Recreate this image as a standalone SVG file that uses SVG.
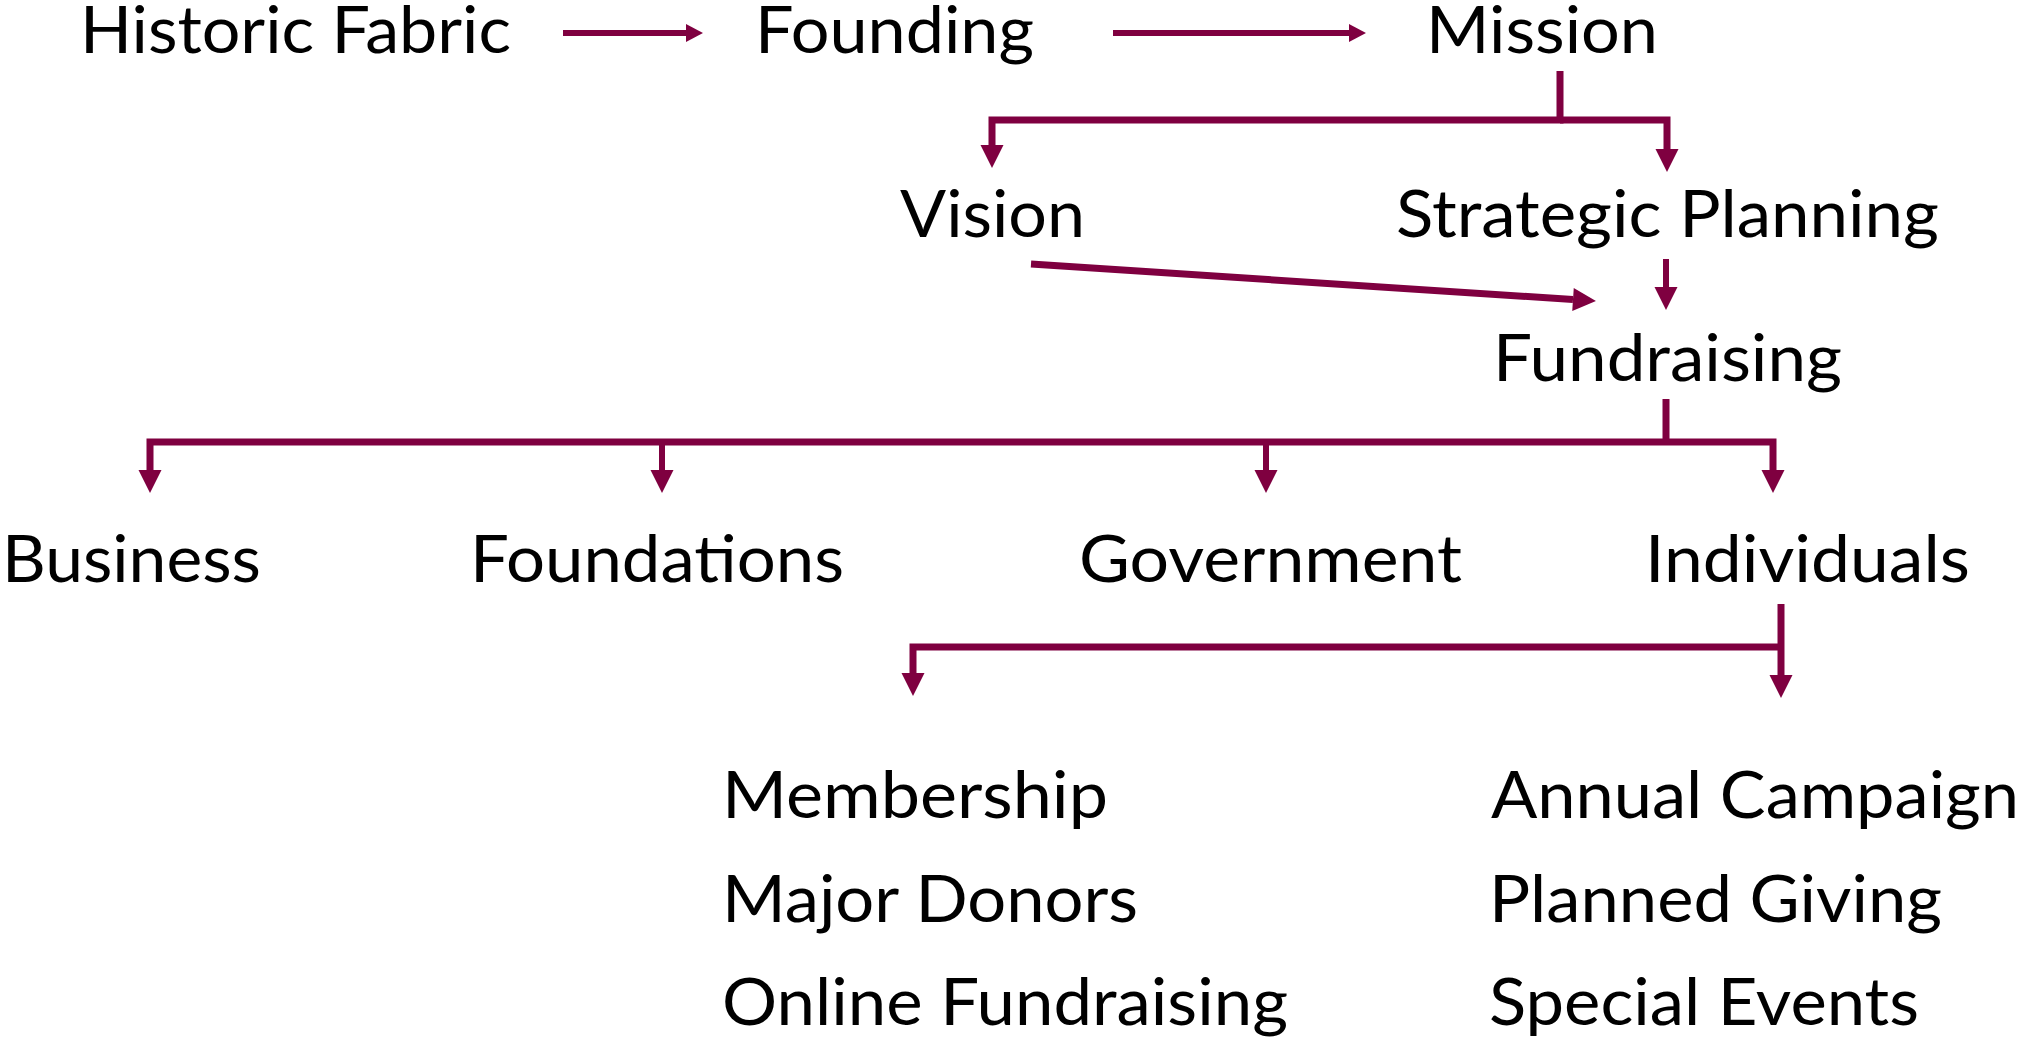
<svg xmlns="http://www.w3.org/2000/svg" width="2021" height="1040" viewBox="0 0 2021 1040">
<style>
  .t { font-family: Lato, "Open Sans", sans-serif; font-size: 66px; fill: #000; }
  .c { fill: none; stroke: #7F0040; stroke-linejoin: miter; stroke-linecap: butt; }
  .w6 { stroke-width: 6; }
  .w7 { stroke-width: 7; }
</style>
<defs>
  <marker id="ah" markerUnits="userSpaceOnUse" markerWidth="24" markerHeight="24" viewBox="0 -12 23 24" refX="0" refY="0" orient="auto">
    <path d="M0,-11.5 L23,0 L0,11.5 Z" fill="#7F0040"/>
  </marker>
  <marker id="ahs" markerUnits="userSpaceOnUse" markerWidth="18" markerHeight="20" viewBox="0 -10 17 20" refX="0" refY="0" orient="auto">
    <path d="M0,-9 L17,0 L0,9 Z" fill="#7F0040"/>
  </marker>
</defs>
<rect width="2021" height="1040" fill="#fff"/>
<g id="connectors">
  <path class="c w6" d="M563,33 H686" marker-end="url(#ahs)"/>
  <path class="c w6" d="M1113,33 H1349" marker-end="url(#ahs)"/>
  <path class="c w7" d="M1560,71 V120 H992 V145" marker-end="url(#ah)"/>
  <path class="c w7" d="M1560,120 H1667 V149" marker-end="url(#ah)"/>
  <path class="c w7" d="M1031,264 L1573,299.5" marker-end="url(#ah)"/>
  <path class="c w6" d="M1666,259 V287" marker-end="url(#ah)"/>
  <path class="c w7" d="M1666,399 V442"/>
  <path class="c w7" d="M150,470 V442 H1773 V470" marker-end="url(#ah)"/>
  <path class="c w6" d="M150,442 V470" marker-end="url(#ah)"/>
  <path class="c w6" d="M662,442 V470" marker-end="url(#ah)"/>
  <path class="c w6" d="M1266,442 V470" marker-end="url(#ah)"/>
  <path class="c w7" d="M1781,604 V675" marker-end="url(#ah)"/>
  <path class="c w7" d="M1781,647 H913 V673" marker-end="url(#ah)"/>
</g>
<g id="historic-fabric"><text class="t" x="80" y="53" textLength="431" lengthAdjust="spacingAndGlyphs">Historic Fabric</text></g>
<g id="founding"><text class="t" x="755" y="53" textLength="279" lengthAdjust="spacingAndGlyphs">Founding</text></g>
<g id="mission"><text class="t" x="1426" y="53" textLength="232" lengthAdjust="spacingAndGlyphs">Mission</text></g>
<g id="vision"><text class="t" x="900" y="237" textLength="185" lengthAdjust="spacingAndGlyphs">Vision</text></g>
<g id="strategic-planning"><text class="t" x="1396" y="237" textLength="543" lengthAdjust="spacingAndGlyphs">Strategic Planning</text></g>
<g id="fundraising"><text class="t" x="1493" y="381" textLength="349" lengthAdjust="spacingAndGlyphs">Fundraising</text></g>
<g id="business"><text class="t" x="2" y="582" textLength="259" lengthAdjust="spacingAndGlyphs">Business</text></g>
<g id="foundations"><text class="t" x="470" y="582" textLength="374" lengthAdjust="spacingAndGlyphs">Foundations</text></g>
<g id="government"><text class="t" x="1079" y="582" textLength="383" lengthAdjust="spacingAndGlyphs">Government</text></g>
<g id="individuals"><text class="t" x="1645" y="582" textLength="325" lengthAdjust="spacingAndGlyphs">Individuals</text></g>
<g id="membership"><text class="t" x="722" y="818" textLength="386" lengthAdjust="spacingAndGlyphs">Membership</text></g>
<g id="major-donors"><text class="t" x="722" y="922" textLength="416" lengthAdjust="spacingAndGlyphs">Major Donors</text></g>
<g id="online-fundraising"><text class="t" x="722" y="1025" textLength="566" lengthAdjust="spacingAndGlyphs">Online Fundraising</text></g>
<g id="annual-campaign"><text class="t" x="1491" y="818" textLength="528" lengthAdjust="spacingAndGlyphs">Annual Campaign</text></g>
<g id="planned-giving"><text class="t" x="1489" y="922" textLength="453" lengthAdjust="spacingAndGlyphs">Planned Giving</text></g>
<g id="special-events"><text class="t" x="1489" y="1025" textLength="430" lengthAdjust="spacingAndGlyphs">Special Events</text></g>
</svg>
